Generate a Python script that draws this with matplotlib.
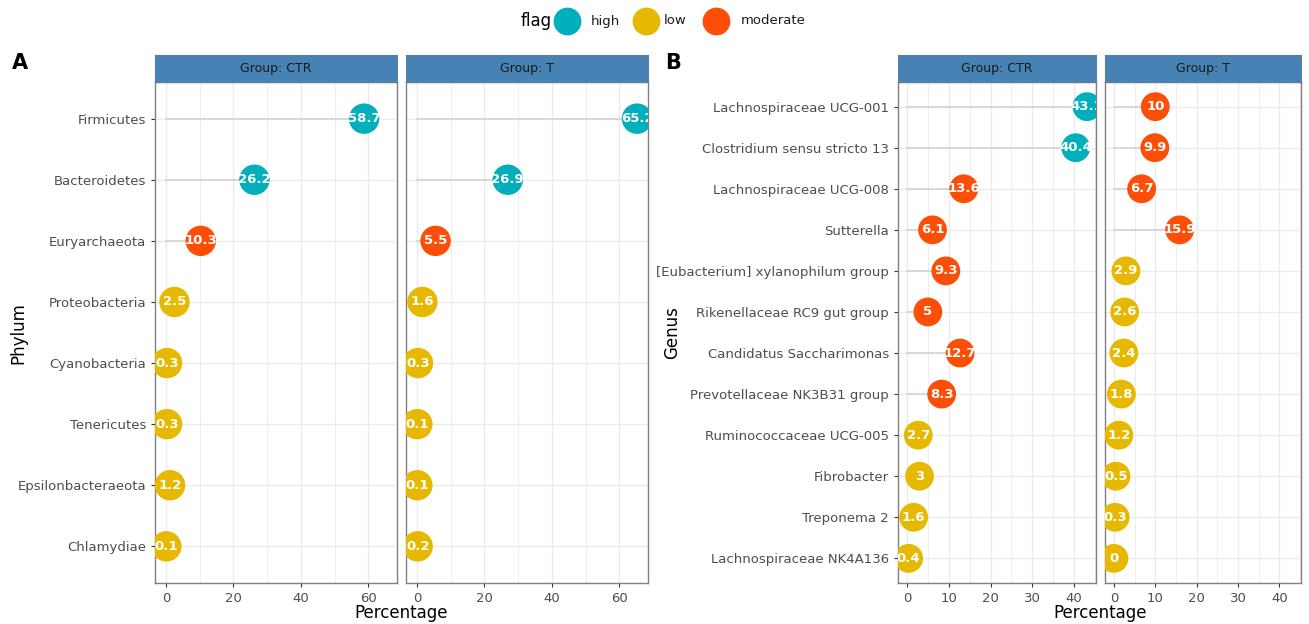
import matplotlib.pyplot as plt
import numpy as np

W, H = 1309, 624

# phylum level
phylum = ["Firmicutes", "Bacteroidetes", "Euryarchaeota", "Proteobacteria",
          "Cyanobacteria", "Tenericutes", "Epsilonbacteraeota", "Chlamydiae"]
phylum_ctr = [58.7, 26.2, 10.3, 2.5, 0.3, 0.3, 1.2, 0.1]
phylum_t = [65.2, 26.9, 5.5, 1.6, 0.3, 0.1, 0.1, 0.2]

# genus level
genus = ["Lachnospiraceae UCG-001", "Clostridium sensu stricto 13",
         "Lachnospiraceae UCG-008", "Sutterella",
         "[Eubacterium] xylanophilum group", "Rikenellaceae RC9 gut group",
         "Candidatus Saccharimonas", "Prevotellaceae NK3B31 group",
         "Ruminococcaceae UCG-005", "Fibrobacter", "Treponema 2",
         "Lachnospiraceae NK4A136"]
genus_ctr = [43.1, 40.4, 13.6, 6.1, 9.3, 5, 12.7, 8.3, 2.7, 3, 1.6, 0.4]
genus_t = [10, 9.9, 6.7, 15.9, 2.9, 2.6, 2.4, 1.8, 1.2, 0.5, 0.3, 0]

flag_colors = {"high": "#00AFBB", "low": "#E7B800", "moderate": "#FC4E07"}


def flag(v):
    if v >= 20:
        return "high"
    if v >= 5:
        return "moderate"
    return "low"


def px_axes(l, r, t, b):
    return fig.add_axes([l / W, 1 - b / H, (r - l) / W, (b - t) / H])


def fmt(v):
    return ("%g" % v)


fig = plt.figure(figsize=(W / 100, H / 100), dpi=100, facecolor="white")


def facet(l, r, labels, values, title, xmax, ticks, minor, show_y, msize):
    ax = px_axes(l, r, 82, 583)
    strip = px_axes(l, r, 55, 82)
    strip.set_facecolor("#4682B4")
    strip.set_xticks([])
    strip.set_yticks([])
    for s in strip.spines.values():
        s.set_color("#5a7fa8")
        s.set_linewidth(0.8)
    strip.text(0.5, 0.5, title, ha="center", va="center", fontsize=9,
               color="#1A1A1A", transform=strip.transAxes)

    n = len(labels)
    y = np.arange(n)[::-1] + 1
    ax.set_xlim(-0.05 * xmax, xmax * 1.05)
    ax.set_ylim(0.4, n + 0.6)
    ax.set_xticks(ticks)
    ax.set_xticks(minor, minor=True)
    ax.set_yticks(y)
    ax.grid(True, which="major", color="#EBEBEB", linewidth=1.0)
    ax.grid(True, which="minor", axis="x", color="#EBEBEB", linewidth=0.6)
    ax.set_axisbelow(True)
    for s in ax.spines.values():
        s.set_color("#808080")
        s.set_linewidth(1.0)
    ax.tick_params(axis="both", which="major", length=3, color="#333333",
                   labelsize=9.5, labelcolor="#4D4D4D", width=0.8)
    ax.tick_params(axis="x", which="minor", length=0)
    if show_y:
        ax.set_yticklabels(labels)
    else:
        ax.tick_params(axis="y", length=0, labelleft=False)

    for yi, v in zip(y, values):
        ax.plot([0, v], [yi, yi], color="#D3D3D3", linewidth=1.2, zorder=2)
    cols = [flag_colors[flag(v)] for v in values]
    ax.scatter(values, y, s=msize, c=cols, zorder=3, linewidths=0)
    for yi, v in zip(y, values):
        ax.text(v, yi, fmt(v), ha="center", va="center", color="white",
                fontsize=9.5, fontweight="bold", zorder=4, clip_on=True)
    return ax


facet(155, 397, phylum, phylum_ctr, "Group: CTR", max(phylum_t),
      [0, 20, 40, 60], [10, 30, 50], True, 480)
facet(406, 648, phylum, phylum_t, "Group: T", max(phylum_t),
      [0, 20, 40, 60], [10, 30, 50], False, 480)
facet(898, 1096, genus, genus_ctr, "Group: CTR", max(genus_ctr),
      [0, 10, 20, 30, 40], [5, 15, 25, 35, 45], True, 430)
facet(1105, 1301, genus, genus_t, "Group: T", max(genus_ctr),
      [0, 10, 20, 30, 40], [5, 15, 25, 35, 45], False, 430)

# axis titles and panel tags
fig.text(401 / W, 1 - 613 / H, "Percentage", ha="center", va="center", fontsize=12)
fig.text(1100 / W, 1 - 613 / H, "Percentage", ha="center", va="center", fontsize=12)
fig.text(18 / W, 1 - 333 / H, "Phylum", ha="center", va="center", fontsize=12,
         rotation=90)
fig.text(672 / W, 1 - 333 / H, "Genus", ha="center", va="center", fontsize=12,
         rotation=90)
fig.text(20 / W, 1 - 63 / H, "A", ha="center", va="center", fontsize=15,
         fontweight="bold")
fig.text(673 / W, 1 - 63 / H, "B", ha="center", va="center", fontsize=15,
         fontweight="bold")

# legend along the top
leg = px_axes(0, W, 0, 45)
leg.set_xlim(0, W)
leg.set_ylim(45, 0)
leg.axis("off")
leg.text(536, 21, "flag", ha="center", va="center", fontsize=12)
for name, cx, tx in [("high", 567, 591), ("low", 646, 664), ("moderate", 716, 741)]:
    leg.scatter([cx], [21], s=400, c=flag_colors[name], linewidths=0)
    leg.text(tx, 21, name, ha="left", va="center", fontsize=9.5, color="#1A1A1A")

fig.savefig("out.png", dpi=100, facecolor="white")
